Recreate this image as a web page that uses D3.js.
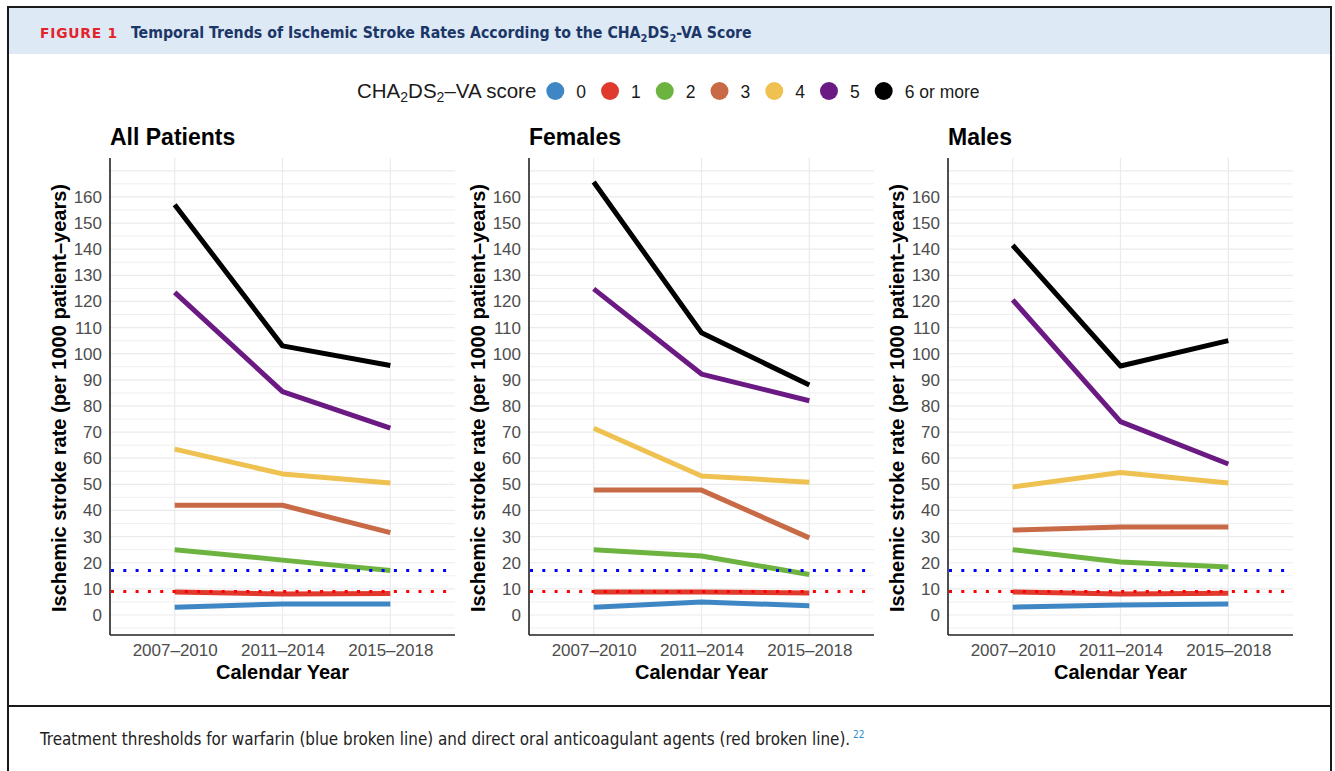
<!DOCTYPE html>
<html>
<head>
<meta charset="utf-8">
<script src="https://cdn.jsdelivr.net/npm/d3@7"></script>
<style>
  body { margin: 0; background: #fff; }
  svg { display: block; }
</style>
</head>
<body>
<svg id="chart" width="1335" height="771"></svg>
<script>
// Chart data.
const categories = ["2007–2010", "2011–2014", "2015–2018"];
const scores = ["0", "1", "2", "3", "4", "5", "6 or more"];
const scoreColors = ["#3f86c4", "#e0392d", "#6db33f", "#c96a47", "#efc150", "#6a1a82", "#000000"];
const panelTitles = ["All Patients", "Females", "Males"];
const yTicks = d3.range(0, 170, 10);

// One row per score (0 .. 6 or more), one value per period.
const allPatients = [
  [3.0, 4.2, 4.2],
  [8.8, 8.0, 8.2],
  [25.0, 21.0, 17.0],
  [42.0, 42.0, 31.5],
  [63.5, 54.0, 50.5],
  [123.5, 85.5, 71.5],
  [157.0, 103.0, 95.5]
];
const females = [
  [3.0, 5.0, 3.5],
  [8.8, 8.8, 8.4],
  [25.0, 22.6, 15.5],
  [47.8, 47.8, 29.5],
  [71.5, 53.2, 50.8],
  [124.8, 92.2, 82.0],
  [165.7, 108.0, 88.0]
];
const males = [
  [3.0, 3.8, 4.2],
  [8.8, 8.0, 8.3],
  [25.0, 20.3, 18.4],
  [32.5, 33.7, 33.7],
  [49.0, 54.5, 50.5],
  [120.6, 74.0, 57.8],
  [141.5, 95.3, 105.0]
];
const panels = [allPatients, females, males];

// Treatment thresholds (per 1000 patient-years).
const thresholds = [
  { name: "warfarin", value: 17, color: "#0000ff" },
  { name: "doac", value: 9, color: "#ff0000" }
];

const svg = d3.select("#chart");
const sans = "'Liberation Sans', Arial, Helvetica, sans-serif";
const narrow = "'Liberation Sans Narrow', 'DejaVu Sans Condensed', 'Liberation Sans', sans-serif";

// Shrink or grow a text's font so that it spans the wanted width.
function fitWidth(sel, width) {
  let size = +sel.attr("font-size");
  let len = sel.node().getComputedTextLength();
  sel.attr("font-size", size * width / len);
}

// Frame and header band.
svg.append("rect")
  .attr("x", 8).attr("y", 8).attr("width", 1323).attr("height", 46)
  .attr("fill", "#dee9f6");
svg.append("path")
  .attr("d", "M8,790 V7 H1331 V790")
  .attr("fill", "none").attr("stroke", "#1a1a1a").attr("stroke-width", 2);
svg.append("line")
  .attr("x1", 8).attr("x2", 1331).attr("y1", 706).attr("y2", 706)
  .attr("stroke", "#1a1a1a").attr("stroke-width", 2);

let fig = svg.append("text")
  .attr("x", 40).attr("y", 38)
  .attr("font-family", "'DejaVu Sans', sans-serif")
  .attr("font-weight", "bold").attr("font-size", 14)
  .attr("letter-spacing", 0.8)
  .attr("fill", "#e3242b")
  .text("FIGURE 1");
fitWidth(fig, 78);

let head = svg.append("text")
  .attr("x", 131).attr("y", 38)
  .attr("font-family", narrow).attr("font-weight", "bold").attr("font-size", 16)
  .attr("fill", "#1b3767");
head.append("tspan").text("Temporal Trends of Ischemic Stroke Rates According to the CHA");
head.append("tspan").attr("font-size", "0.7em").attr("dy", 4).text("2");
head.append("tspan").attr("dy", -4).text("DS");
head.append("tspan").attr("font-size", "0.7em").attr("dy", 4).text("2");
head.append("tspan").attr("dy", -4).text("-VA Score");
fitWidth(head, 621);

// Legend.
let legend = svg.append("g").attr("font-family", sans).attr("fill", "#1a1a1a");
let lt = legend.append("text")
  .attr("x", 357).attr("y", 98).attr("font-size", 20.5);
lt.append("tspan").text("CHA");
lt.append("tspan").attr("font-size", 14).attr("dy", 4).text("2");
lt.append("tspan").attr("dy", -4).text("DS");
lt.append("tspan").attr("font-size", 14).attr("dy", 4).text("2");
lt.append("tspan").attr("dy", -4).text("–VA score");

let lx = 357 + lt.node().getComputedTextLength() + 19;
scores.forEach((s, i) => {
  legend.append("circle")
    .attr("cx", lx).attr("cy", 91).attr("r", 9)
    .attr("fill", scoreColors[i]);
  let t = legend.append("text")
    .attr("x", lx + 21).attr("y", 98).attr("font-size", 17.5)
    .text(s);
  lx += 21 + t.node().getComputedTextLength() + 24;
});

// Panels.
const plotTop = 158, plotBottom = 635, plotWidth = 345;
const y = d3.scaleLinear().domain([-7.66, 174.9]).range([plotBottom, plotTop]);

panels.forEach((rows, p) => {
  const left = 110 + p * 419;
  const x = d3.scalePoint().domain(categories).range([left, left + plotWidth]).padding(0.6);
  const g = svg.append("g");

  // grid
  g.selectAll(".hgrid").data(d3.range(-5, 175, 5)).enter().append("line")
    .attr("x1", left).attr("x2", left + plotWidth)
    .attr("y1", (d) => y(d)).attr("y2", (d) => y(d))
    .attr("stroke", "#ebebeb").attr("stroke-width", (d) => (d % 10 === 0 ? 1.2 : 0.8));
  g.selectAll(".vgrid").data(categories).enter().append("line")
    .attr("x1", (d) => x(d)).attr("x2", (d) => x(d))
    .attr("y1", plotTop).attr("y2", plotBottom)
    .attr("stroke", "#ebebeb").attr("stroke-width", 1.2);

  // axes
  const yAxis = g.append("g")
    .attr("transform", `translate(${left},0)`)
    .call(d3.axisLeft(y).tickValues(yTicks).tickSize(0).tickPadding(8));
  const xAxis = g.append("g")
    .attr("transform", `translate(0,${plotBottom})`)
    .call(d3.axisBottom(x).tickSize(0).tickPadding(9));
  [yAxis, xAxis].forEach((a) => {
    a.select(".domain").remove();
    a.selectAll("text")
      .attr("font-family", sans).attr("font-size", 17).attr("fill", "#4d4d4d");
  });
  g.append("line")
    .attr("x1", left).attr("x2", left).attr("y1", plotTop).attr("y2", plotBottom)
    .attr("stroke", "#222").attr("stroke-width", 1.6);
  g.append("line")
    .attr("x1", left).attr("x2", left + plotWidth).attr("y1", plotBottom).attr("y2", plotBottom)
    .attr("stroke", "#222").attr("stroke-width", 1.6);

  // score lines
  const line = d3.line().x((d, i) => x(categories[i])).y((d) => y(d));
  g.selectAll(".score").data(rows).enter().append("path")
    .attr("d", line)
    .attr("fill", "none")
    .attr("stroke", (d, i) => scoreColors[i])
    .attr("stroke-width", 5)
    .attr("stroke-linejoin", "round");

  // threshold lines
  g.selectAll(".thr").data(thresholds).enter().append("line")
    .attr("x1", left + 1).attr("x2", left + plotWidth)
    .attr("y1", (d) => y(d.value)).attr("y2", (d) => y(d.value))
    .attr("stroke", (d) => d.color).attr("stroke-width", 3)
    .attr("stroke-dasharray", "3,9.3");

  // titles
  g.append("text")
    .attr("x", left).attr("y", 145)
    .attr("font-family", sans).attr("font-weight", "bold").attr("font-size", 23)
    .attr("fill", "#000").text(panelTitles[p]);
  g.append("text")
    .attr("x", left + plotWidth / 2).attr("y", 679)
    .attr("text-anchor", "middle")
    .attr("font-family", sans).attr("font-weight", "bold").attr("font-size", 20)
    .attr("fill", "#000").text("Calendar Year");
  g.append("text")
    .attr("transform", `translate(${left - 44},${398}) rotate(-90)`)
    .attr("text-anchor", "middle")
    .attr("font-family", sans).attr("font-weight", "bold").attr("font-size", 20)
    .attr("fill", "#000").text("Ischemic stroke rate (per 1000 patient–years)");
});

// Caption.
let cap = svg.append("text")
  .attr("x", 40).attr("y", 745)
  .attr("font-family", narrow).attr("font-size", 15).attr("fill", "#222")
  .text("Treatment thresholds for warfarin (blue broken line) and direct oral anticoagulant agents (red broken line).");
fitWidth(cap, 811);
svg.append("text")
  .attr("x", 853).attr("y", 738)
  .attr("font-family", narrow).attr("font-size", 10).attr("fill", "#2a8fc9")
  .text("22");
</script>
</body>
</html>
